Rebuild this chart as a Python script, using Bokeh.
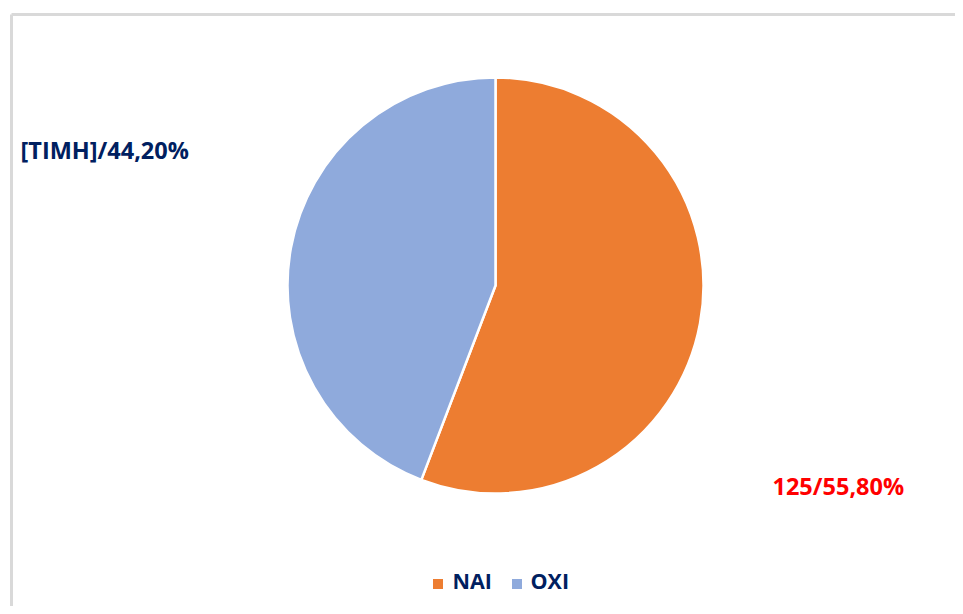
import math
from bokeh.plotting import figure
from bokeh.models import Range1d, ColumnDataSource
from bokeh.embed import file_html
from bokeh.resources import INLINE
from bokeh.core.properties import value

# ---- data ----
categories = ["ΝΑΙ", "ΟΧΙ"]
counts = [125, 99]
percent_labels = ["55,80%", "44,20%"]
value_labels = ["125", "[ΤΙΜΗ]"]
slice_colors = ["#ED7D31", "#8FAADC"]
label_colors = ["#FF0000", "#002060"]

# ---- layout ----
W, H = 955, 606
FONT = "Open Sans"

p = figure(width=W, height=H, x_range=Range1d(0, W), y_range=Range1d(0, H),
           output_backend="svg", toolbar_location=None, min_border=0,
           x_axis_type=None, y_axis_type=None)
p.grid.visible = False
p.outline_line_color = None
p.background_fill_color = "white"
p.border_fill_color = "white"

# chart frame
p.segment(x0=[11, 11], y0=[H - 14, H - 14], x1=[W, 11], y1=[H - 14, 0],
          line_color="#D9D9D9", line_width=3)

# pie
total = sum(counts)
cx, cy, r = 495, H - 285, 208
starts, ends = [], []
acc = 0.0
for c in counts:
    starts.append(math.pi / 2 - 2 * math.pi * acc / total)
    acc += c
    ends.append(math.pi / 2 - 2 * math.pi * acc / total)

src = ColumnDataSource(dict(x=[cx] * len(counts), y=[cy] * len(counts),
                            start=starts, end=ends, color=slice_colors,
                            cat=categories))
p.wedge(x="x", y="y", radius=r, start_angle="start", end_angle="end",
        direction="clock", fill_color="color", line_color="white",
        line_width=2.5, source=src)

# data labels
labels = [f"{v}/{pc}" for v, pc in zip(value_labels, percent_labels)]
lab_x = [772, 20]
lab_y = [H - 485, H - 149]
lsrc = ColumnDataSource(dict(x=lab_x, y=lab_y, text=labels, color=label_colors))
p.text(x="x", y="y", text="text", text_color="color", source=lsrc,
       text_font=value(FONT), text_font_style="bold", text_font_size="23.5px",
       text_baseline="middle", text_align="left")

# legend
sq_x = [437.5, 516.5]
sq_y = [H - 583.5, H - 583.5]
p.scatter(x=sq_x, y=sq_y, marker="square", size=10, fill_color=slice_colors,
          line_color=None)
p.text(x=[452, 530], y=[H - 580, H - 580], text=categories, text_color="#002060",
       text_font=value(FONT), text_font_style="bold", text_font_size="21.5px",
       text_baseline="middle", text_align="left")

open("out.html", "w").write(file_html(p, INLINE))
